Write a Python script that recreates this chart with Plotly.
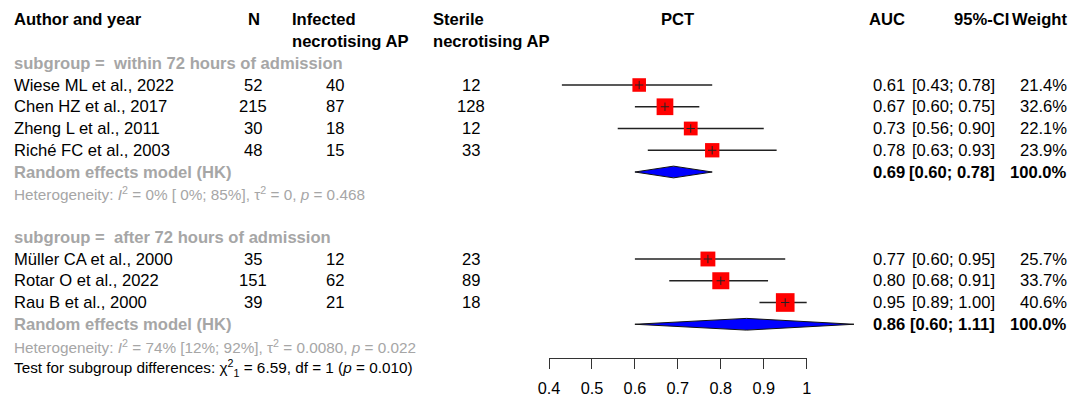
import plotly.graph_objects as go

# ---------------- data ----------------
studies = ["Wiese ML et al., 2022", "Chen HZ et al., 2017", "Zheng L et al., 2011",
           "Riché FC et al., 2003", "Müller CA et al., 2000", "Rotar O et al., 2022",
           "Rau B et al., 2000"]
study_group = [0, 0, 0, 0, 1, 1, 1]
n_total = [52, 215, 30, 48, 35, 151, 39]
n_infected = [40, 87, 18, 15, 12, 62, 21]
n_sterile = [12, 128, 12, 33, 23, 89, 18]
auc = [0.61, 0.67, 0.73, 0.78, 0.77, 0.80, 0.95]
ci_low = [0.43, 0.60, 0.56, 0.63, 0.60, 0.68, 0.89]
ci_high = [0.78, 0.75, 0.90, 0.93, 0.95, 0.91, 1.00]
weights = [21.4, 32.6, 22.1, 23.9, 25.7, 33.7, 40.6]

group_labels = ["subgroup =  within 72 hours of admission",
                "subgroup =  after 72 hours of admission"]
pooled_auc = [0.69, 0.86]
pooled_low = [0.60, 0.60]
pooled_high = [0.78, 1.11]
pooled_weight = [100.0, 100.0]
het_text = ["Heterogeneity: <i>I</i><sup>2</sup> = 0% [ 0%; 85%], τ<sup>2</sup> = 0, <i>p</i> = 0.468",
            "Heterogeneity: <i>I</i><sup>2</sup> = 74% [12%; 92%], τ<sup>2</sup> = 0.0080, <i>p</i> = 0.022"]
test_text = "Test for subgroup differences: χ<sup>2</sup><sub>1</sub> = 6.59, df = 1 (<i>p</i> = 0.010)"
tick_vals = [0.4, 0.5, 0.6, 0.7, 0.8, 0.9, 1.0]
tick_text = ["0.4", "0.5", "0.6", "0.7", "0.8", "0.9", "1"]

# ---------------- layout geometry ----------------
W, H = 1073, 399
FONT = "Liberation Sans, Arial, sans-serif"
FS = 16.6
FS_SMALL = 15.3
GRAY = "#A6A6A6"
AXIS_Y = 357.5                        # pixel row of the scale line
X_PX0, PX_PER = 549.0, 429.5          # pixel of 0.4 and pixels per unit
ROW0, ROW_H = 85.0, 21.75             # pixel centre of first study row, row height
x_range = [0.4 - X_PX0 / PX_PER, 0.4 + (W - X_PX0) / PX_PER]
y_range = [(H - ROW0) / ROW_H, -ROW0 / ROW_H]

# row indices (0 = first study row)
header_rows = [-3, -2]
sub_rows = [-1, 7]
rows_study = [0, 1, 2, 3, 8, 9, 10]
pooled_rows = [4, 11]
het_rows = [5, 12]
test_row = 13

fig = go.Figure()

# CI lines
lx, ly = [], []
for lo, hi, r in zip(ci_low, ci_high, rows_study):
    lx += [lo, hi, None]
    ly += [r, r, None]
fig.add_trace(go.Scatter(x=lx, y=ly, mode="lines", line=dict(color="#222222", width=1.3),
                         hoverinfo="skip", showlegend=False))

# squares (side proportional to sqrt(weight))
sizes = [2.93 * (w ** 0.5) for w in weights]
fig.add_trace(go.Scatter(x=auc, y=rows_study, mode="markers",
                         marker=dict(symbol="square", size=sizes, color="#FF0000",
                                     opacity=1, line=dict(width=0)),
                         hoverinfo="skip", showlegend=False))
# centre cross
fig.add_trace(go.Scatter(x=auc, y=rows_study, mode="markers",
                         marker=dict(symbol="cross-thin", size=6, opacity=1,
                                     line=dict(width=1, color="#222222")),
                         hoverinfo="skip", showlegend=False))

# diamonds
h = 0.27
for est, lo, hi, r in zip(pooled_auc, pooled_low, pooled_high, pooled_rows):
    fig.add_trace(go.Scatter(x=[lo, est, hi, est, lo], y=[r, r - h, r, r + h, r],
                             mode="lines", fill="toself", fillcolor="#0000FF",
                             line=dict(color="#111111", width=1),
                             hoverinfo="skip", showlegend=False))

# invisible trace for the scale axis
fig.add_trace(go.Scatter(x=[tick_vals[0], tick_vals[-1]], y=[12, 12], xaxis="x2", yaxis="y",
                         mode="markers", marker=dict(opacity=0), hoverinfo="skip",
                         showlegend=False))

ann = []


def txt(text, px, row, anchor="left", bold=False, color="black", size=FS, xref="paper"):
    if bold:
        text = "<b>" + text + "</b>"
    ann.append(dict(text=text, x=(px / W if xref == "paper" else px), y=row,
                    xref=xref, yref="y", xanchor=anchor, yanchor="middle",
                    showarrow=False, borderpad=0,
                    font=dict(family=FONT, size=size, color=color)))


# headers
txt("Author and year", 13, header_rows[0], bold=True)
txt("N", 253.5, header_rows[0], anchor="center", bold=True)
txt("Infected", 290.5, header_rows[0], bold=True)
txt("necrotising AP", 290.5, header_rows[1], bold=True)
txt("Sterile", 432, header_rows[0], bold=True)
txt("necrotising AP", 432, header_rows[1], bold=True)
txt("PCT", 0.7, header_rows[0], anchor="center", bold=True, xref="x")
txt("AUC", 905.5, header_rows[0], anchor="right", bold=True)
txt("95%-CI", 1009.5, header_rows[0], anchor="right", bold=True)
txt("Weight", 1068, header_rows[0], anchor="right", bold=True)

# subgroup labels
for lab, r in zip(group_labels, sub_rows):
    txt(lab, 13, r, bold=True, color=GRAY)

# studies
for i, r in enumerate(rows_study):
    txt(studies[i], 13, r)
    txt(str(n_total[i]), 253, r, anchor="center")
    txt(str(n_infected[i]), 335, r, anchor="center")
    txt(str(n_sterile[i]), 470.5, r, anchor="center")
    txt(f"{auc[i]:.2f}", 905.5, r, anchor="right")
    txt(f"[{ci_low[i]:.2f}; {ci_high[i]:.2f}]", 996, r, anchor="right")
    txt(f"{weights[i]:.1f}%", 1068, r, anchor="right")

# pooled
for g in range(2):
    r = pooled_rows[g]
    txt("Random effects model (HK)", 13, r, bold=True, color=GRAY)
    txt(f"{pooled_auc[g]:.2f}", 905.5, r, anchor="right", bold=True)
    txt(f"[{pooled_low[g]:.2f}; {pooled_high[g]:.2f}]", 996, r, anchor="right", bold=True)
    txt(f"{pooled_weight[g]:.1f}%", 1068, r, anchor="right", bold=True)
    txt(het_text[g], 13, het_rows[g], color=GRAY, size=FS_SMALL)

txt(test_text, 13, test_row, size=FS_SMALL)

fig.update_layout(
    width=W, height=H, autosize=False,
    margin=dict(l=0, r=0, t=0, b=0, pad=0, autoexpand=False),
    paper_bgcolor="white", plot_bgcolor="rgba(0,0,0,0)",
    annotations=ann,
    xaxis=dict(range=x_range, visible=False, domain=[0, 1], automargin=False),
    xaxis2=dict(range=[tick_vals[0], tick_vals[-1]], anchor="free",
                position=(H - AXIS_Y) / H, automargin=False,
                domain=[X_PX0 / W, (X_PX0 + 0.6 * PX_PER) / W],
                showline=True, linecolor="#333333", linewidth=1,
                ticks="outside", ticklen=10, tickwidth=1, tickcolor="#333333",
                tickvals=tick_vals, ticktext=tick_text, ticklabelstandoff=6,
                tickfont=dict(family=FONT, size=16.3, color="black"),
                showgrid=False, zeroline=False),
    yaxis=dict(range=y_range, visible=False, automargin=False),
    showlegend=False,
)

fig.write_html("out.html", config={"displayModeBar": False, "staticPlot": True},
               post_script="document.body.style.margin='0px';document.body.style.padding='0px';")
